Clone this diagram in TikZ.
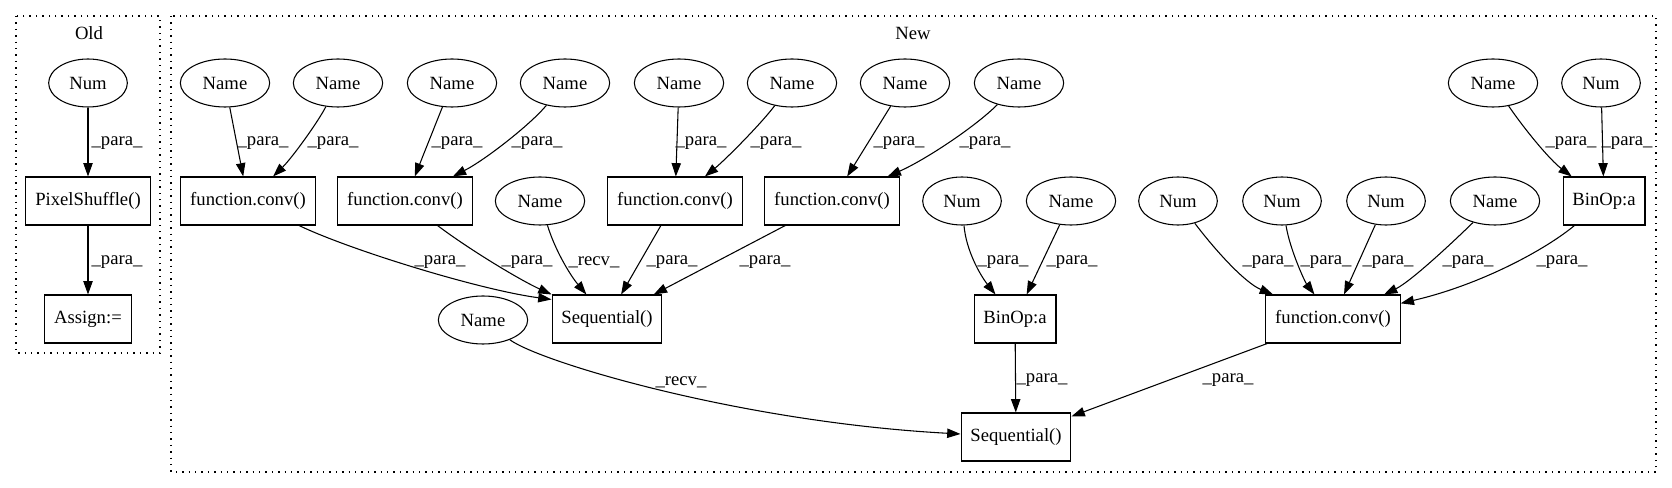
\documentclass[tikz,border=0pt]{standalone}
\usepackage{fontspec}
\setmainfont{Liberation Serif}
\newfontfamily\gvfont{Liberation Serif}
\usetikzlibrary{positioning,arrows.meta,shapes.geometric,calc}
\tikzset{
  ell/.style={draw, ellipse, line width=0.8pt, minimum height=36pt, inner sep=0pt},
  nm/.style={ell, minimum width=67pt},
  nu/.style={ell, minimum width=59pt},
  fn/.style={draw, rectangle, line width=0.8pt, minimum height=36pt, inner xsep=7pt},
  ed/.style={-{Triangle[length=10pt,width=7pt]}, line width=0.8pt},
  lb/.style={inner sep=0pt},
  clus/.style={draw, line width=0.9pt, dash pattern=on 1pt off 3.8pt}
}

\begin{document}
\begin{tikzpicture}[x=0.75pt, y=-0.75pt, font=\gvfont\fontsize{14pt}{16pt}\selectfont]
\useasboundingbox (0,0) rectangle (1672,488);
% clusters
\draw[clus] (16,16) rectangle (160,353);
\draw[clus] (171,16) rectangle (1656,472);
\node (old) at (89,33) {Old};
\node (new) at (913,33) {New};
% old part
\node[nu] (onum) at (88,83) {Num};
\node[fn] (opix) at (88,201) {PixelShuffle()};
\node[fn] (oasg) at (88,319) {Assign:=};
% top row of the new part
\foreach \n/\x in {n1/225, n2/338, n3/452, n4/565, n5/679, n6/792, n7/905, n8/1019, n9/1493} {
  \node[nm] (\n) at (\x,83) {Name};
}
\node[nu] (m9) at (1601,83) {Num};
% middle row
\foreach \n/\x in {c1/248, c2/405, c3/675, c4/832} {
  \node[fn] (\n) at (\x,201) {function.conv()};
}
\node[nm] (r1) at (540,201) {Name};
\node[nm] (n10) at (1071,201) {Name};
\node[nm] (n11) at (1495,201) {Name};
\foreach \n/\x in {m1/962, m2/1178, m3/1282, m4/1386} {
  \node[nu] (\n) at (\x,201) {Num};
}
\node[fn] (b2) at (1604,201) {BinOp:a};
% lower rows
\node[nm] (r2) at (483,320) {Name};
\node[fn] (s1) at (607,319) {Sequential()};
\node[fn] (b1) at (1015,319) {BinOp:a};
\node[fn] (c5) at (1333,319) {function.conv()};
\node[fn] (s2) at (1016,437) {Sequential()};

% straight edges
\foreach \a/\b in {onum/opix, opix/oasg, n1/c1, n3/c2, n5/c3, n7/c4, c3/s1, c4/s1,
                   n10/b1, b1/s2, c5/s2, m9/b2, m4/c5} {
  \draw[ed] (\a) -- (\b);
}
% curved edges
\draw[ed] (n2) .. controls (318,122) and (292,158) .. (c1);
\draw[ed] (n4) .. controls (530,125) and (485,160) .. (c2);
\draw[ed] (n6) .. controls (760,125) and (725,160) .. (c3);
\draw[ed] (n8) .. controls (975,127) and (925,160) .. (c4);
\draw[ed] (c1) .. controls (350,250) and (480,290) .. ($(s1.north west)+(0,5)$);
\draw[ed] (c2) .. controls (470,250) and (520,280) .. (s1.north west);
\draw[ed] (r1) .. controls (555,250) and (570,275) .. (s1);
\draw[ed] (m1) .. controls (966,250) and (980,275) .. (b1);
\draw[ed] (r2) .. controls (540,362) and (740,422) .. (s2);
\draw[ed] (n9) .. controls (1525,130) and (1550,160) .. (b2);
\draw[ed] (m2) .. controls (1215,250) and (1245,283) .. (c5);
\draw[ed] (m3) .. controls (1290,250) and (1305,282) .. (c5);
\draw[ed] (n11) .. controls (1450,245) and (1410,282) .. (c5);
\draw[ed] (b2) .. controls (1545,250) and (1480,285) .. (c5);

% edge labels
\foreach \n/\x/\y in {l1/117/143, l2/117/262, l3/263/143, l4/333/143, l5/457/143,
    l6/537/143, l7/701/143, l8/776/143, l9/899/143, l10/985/143, l11/440/262,
    l12/527/262, l13/672/262, l14/765/262, l15/1003/262, l16/1072/262,
    l17/1042/380, l18/1228/380, l19/1571/143, l20/1627/143, l21/1268/262,
    l22/1326/262, l23/1388/262, l24/1468/262, l25/1562/262} {
  \node[lb] (\n) at (\x,\y) {\_para\_};
}
\node[lb] (l26) at (594,262) {\_recv\_};
\node[lb] (l27) at (681,382) {\_recv\_};
\end{tikzpicture}
\end{document}
